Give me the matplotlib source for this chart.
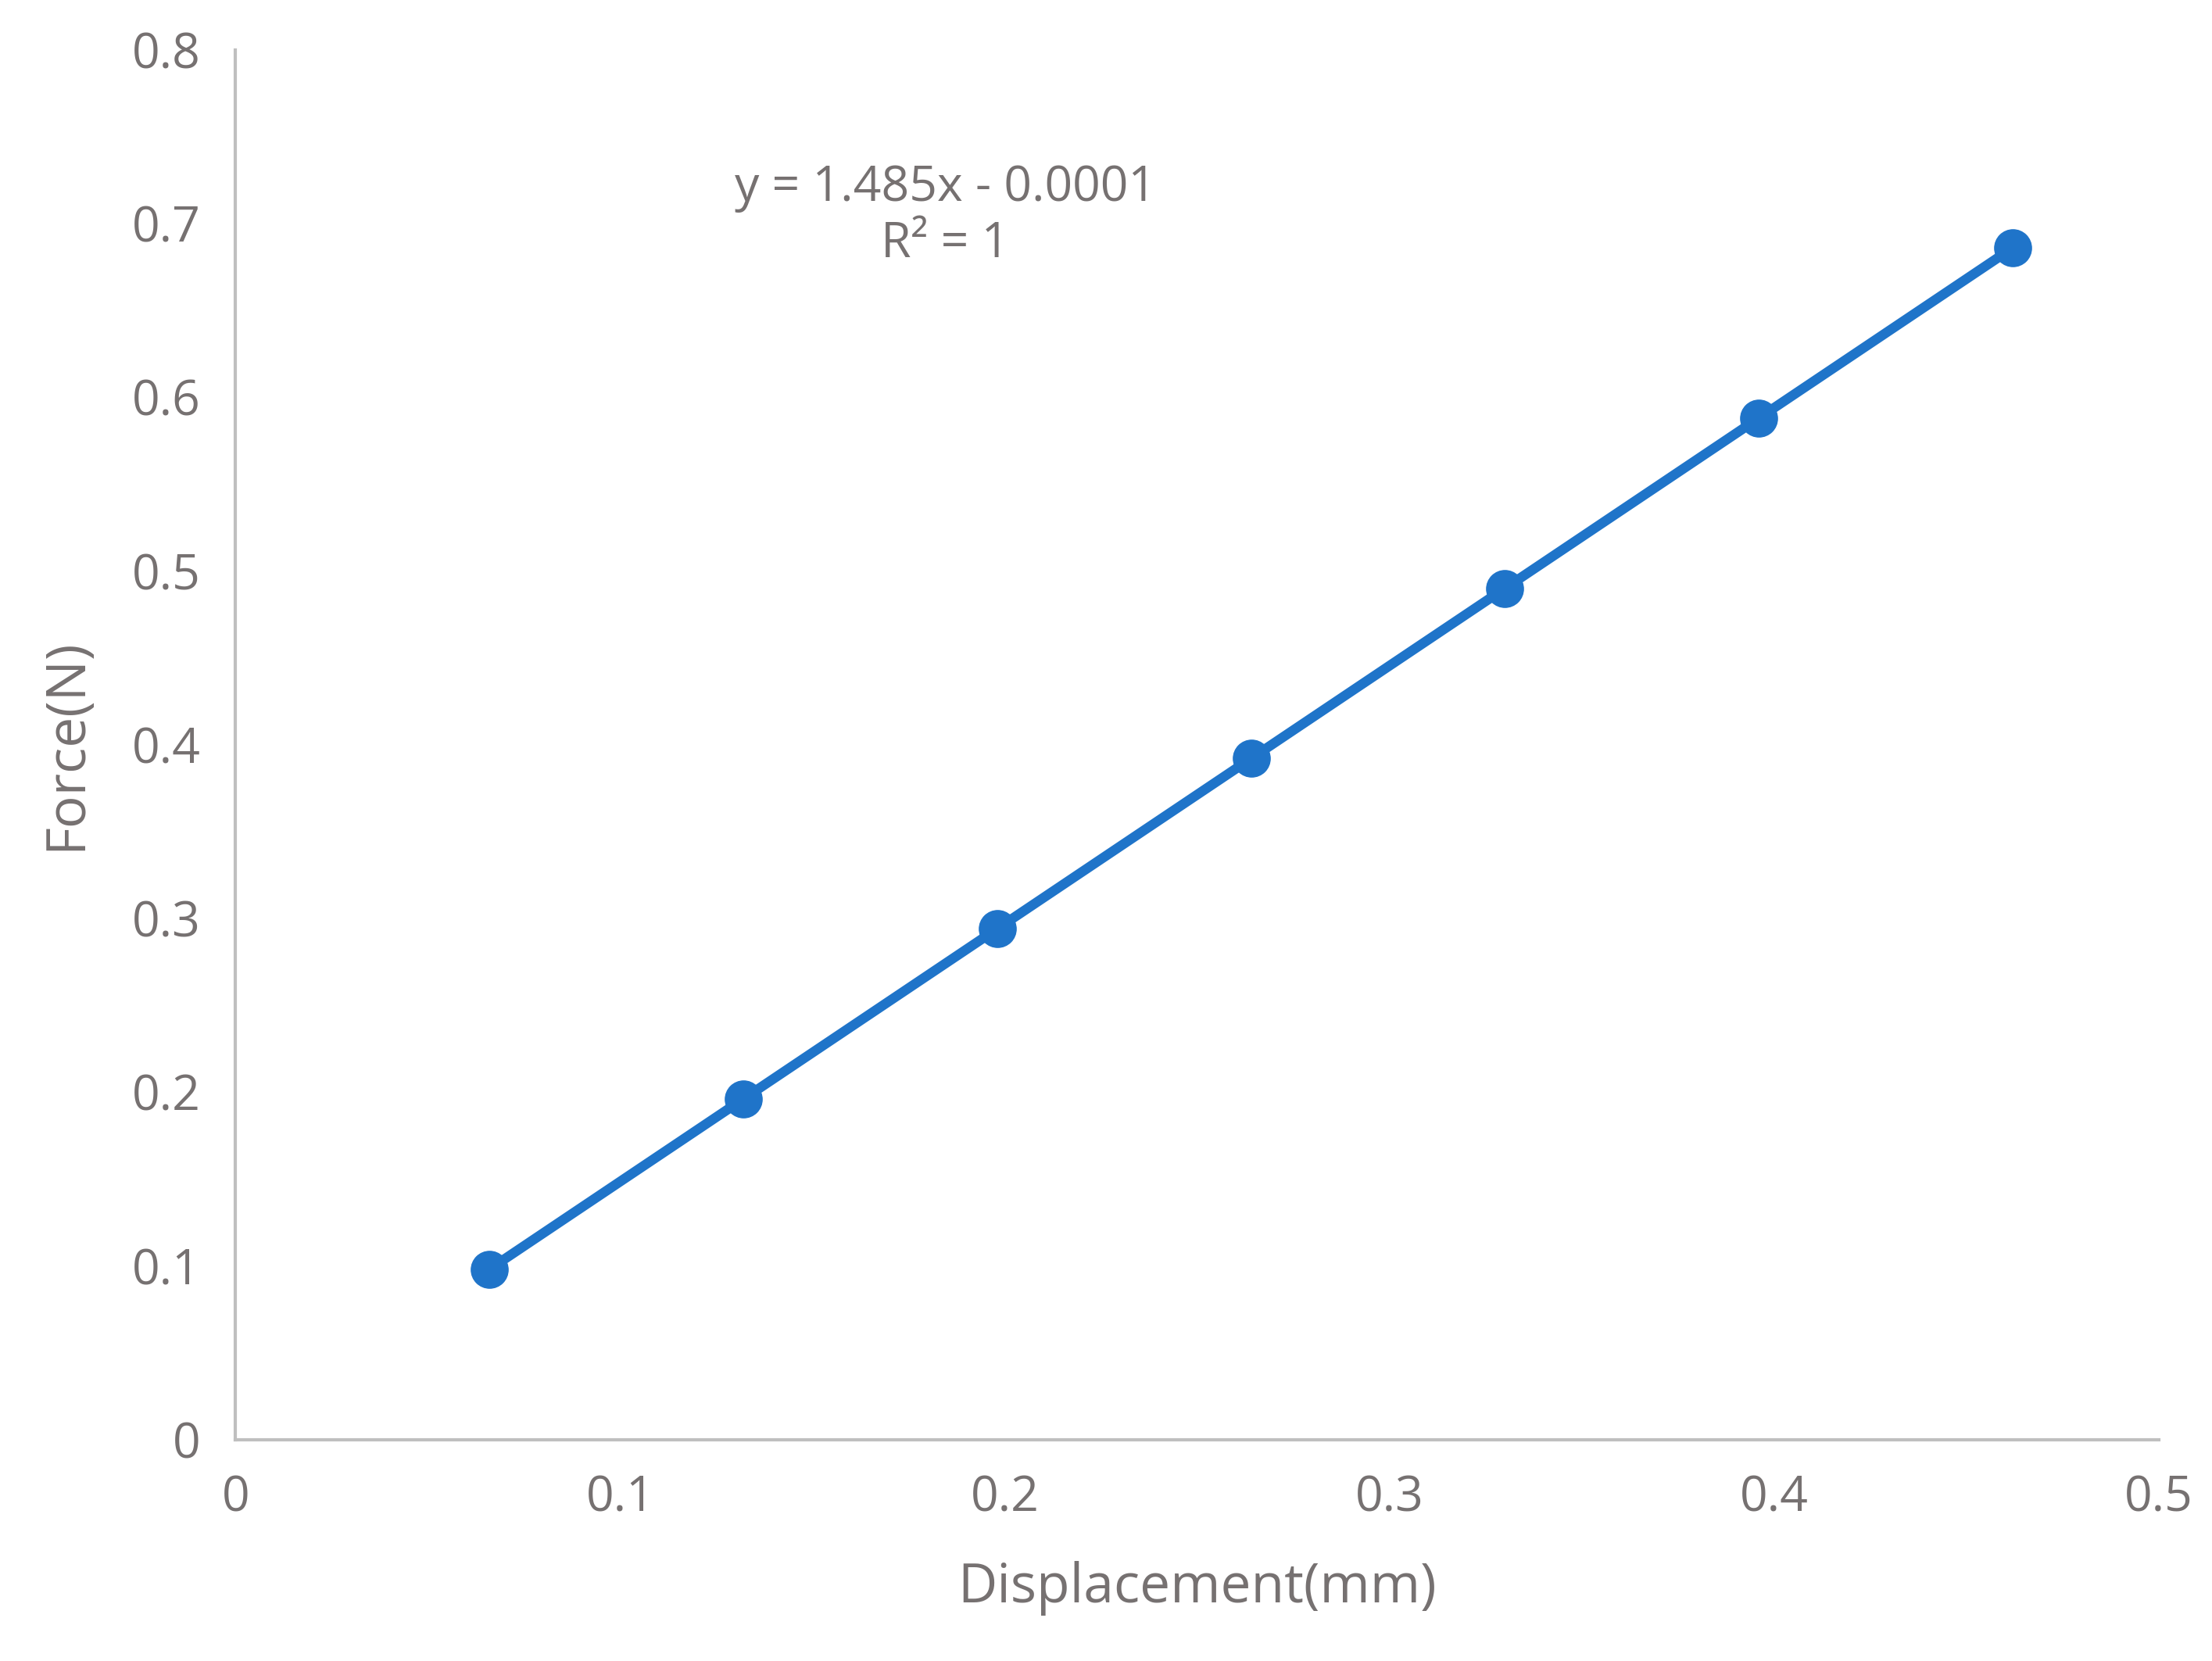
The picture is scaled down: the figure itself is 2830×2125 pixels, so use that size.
import matplotlib.pyplot as plt

LINE_COLOR = "#1f74c9"
TEXT_COLOR = "#767171"
AXIS_COLOR = "#bfbfbf"

displacement = [0.066, 0.132, 0.198, 0.264, 0.330, 0.396, 0.462]
force = [0.098, 0.196, 0.294, 0.392, 0.490, 0.588, 0.686]
slope, intercept = 1.485, -0.0001

plt.rcParams["font.family"] = ["Open Sans", "DejaVu Sans"]

fig = plt.figure(figsize=(28.3, 21.25), dpi=100)
ax = fig.add_axes([0.1065, 0.1334, 0.8695, 0.8366])

ax.plot(displacement, force, color=LINE_COLOR, linewidth=9, marker="o",
        markersize=34, zorder=3)
# linear trendline (dotted, mostly hidden under the series line)
tx = [displacement[0], displacement[-1]]
ax.plot(tx, [slope * v + intercept for v in tx], color=LINE_COLOR,
        linewidth=4, linestyle=":", zorder=2)

ax.set_xlim(0, 0.5)
ax.set_ylim(0, 0.8)
ax.set_xticks([0, 0.1, 0.2, 0.3, 0.4, 0.5])
ax.set_xticklabels(["0", "0.1", "0.2", "0.3", "0.4", "0.5"])
ax.set_yticks([0, 0.1, 0.2, 0.3, 0.4, 0.5, 0.6, 0.7, 0.8])
ax.set_yticklabels(["0", "0.1", "0.2", "0.3", "0.4", "0.5", "0.6", "0.7", "0.8"])
ax.tick_params(length=0, labelsize=45, labelcolor=TEXT_COLOR, pad=32)

for side in ["top", "right"]:
    ax.spines[side].set_visible(False)
for side in ["left", "bottom"]:
    ax.spines[side].set_color(AXIS_COLOR)
    ax.spines[side].set_linewidth(3)

ax.set_xlabel("Displacement(mm)", fontsize=50, color=TEXT_COLOR, labelpad=35)
ax.set_ylabel("Force(N)", fontsize=50, color=TEXT_COLOR, labelpad=35)

ax.text(0.1845, 0.704, "y = 1.485x - 0.0001\nR² = 1", fontsize=45,
        color=TEXT_COLOR, ha="center", va="center", linespacing=1.2)

fig.savefig("out.png", dpi=100)
